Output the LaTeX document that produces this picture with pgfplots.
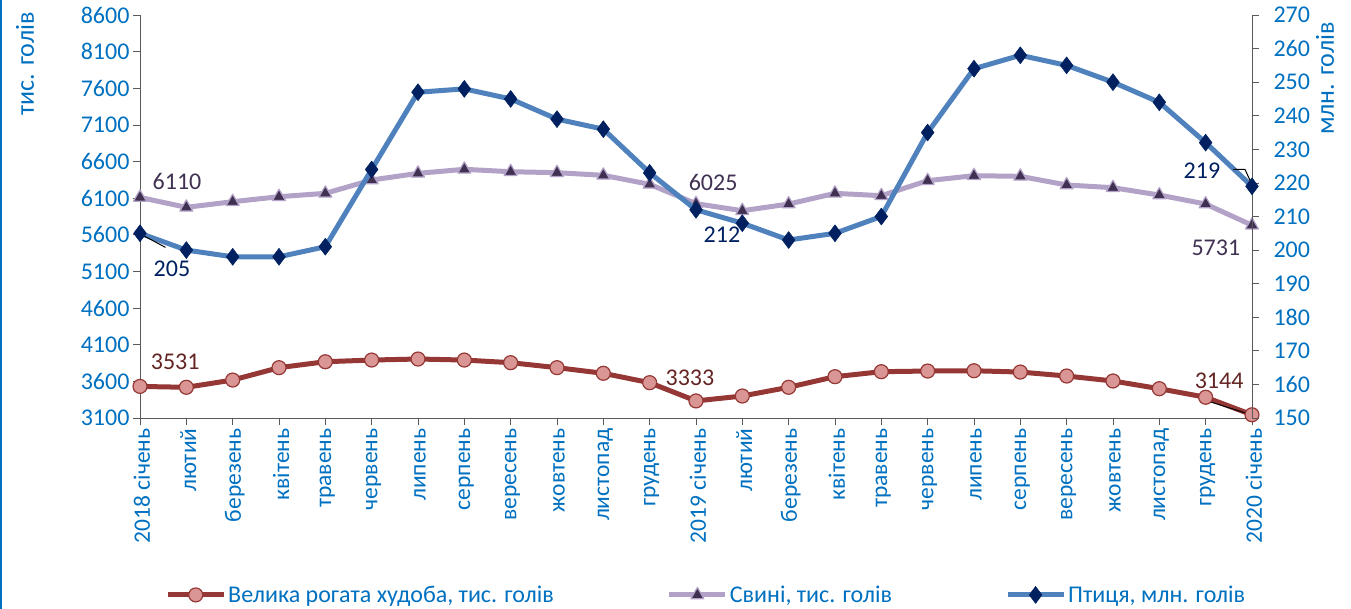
\documentclass[border=0pt]{standalone}
\usepackage{pgfplots}
\pgfplotsset{compat=1.18}
\usepackage{fontspec}
\setmainfont{Carlito}
\definecolor{tickblue}{HTML}{0070C0}
\definecolor{cattle}{HTML}{953735}
\definecolor{cattlefill}{HTML}{D99694}
\definecolor{cattlelab}{HTML}{632523}
\definecolor{pigs}{HTML}{B3A2C7}
\definecolor{pigmark}{HTML}{403152}
\definecolor{birds}{HTML}{4F81BD}
\definecolor{birdmark}{HTML}{002060}
\definecolor{axisgray}{HTML}{595959}
\pgfplotsset{
  common/.style={
    width=1112bp, height=403bp, scale only axis,
    at={(0,0)}, anchor=south west,
    xmin=0, xmax=24,
    tick align=outside, major tick length=7bp,
    tick style={axisgray, line width=0.8bp},
    axis line style={axisgray, line width=0.8bp},
    ticklabel style={font=\fontsize{24bp}{26bp}\selectfont, text=tickblue},
    /pgf/number format/assume math mode=true,
    /pgf/number format/set thousands separator={},
    every axis plot/.append style={line join=round},
  },
  cattlestyle/.style={cattle, line width=5bp, mark=*, mark size=7bp,
    mark options={fill=cattlefill, draw=cattle, line width=1.2bp}},
  pigstyle/.style={pigs, line width=5bp, mark=triangle*, mark size=7.5bp,
    mark options={fill=pigmark, draw=pigs, line width=1.2bp}},
  birdstyle/.style={birds, line width=5bp, mark=diamond*, mark size=8.5bp,
    mark options={fill=birdmark, draw=birdmark, line width=0.5bp}},
}
\begin{document}
\begin{tikzpicture}
\path[use as bounding box] (-140bp,-191bp) rectangle (1211bp,418bp);
\begin{axis}[common,
  axis x line*=bottom, axis y line*=left,
  ymin=3100, ymax=8600, ytick={3100,3600,...,8600},
  xtick={0,...,24},
  xticklabels={2018 січень,лютий,березень,квітень,травень,червень,липень,серпень,вересень,жовтень,листопад,грудень,2019 січень,лютий,березень,квітень,травень,червень,липень,серпень,вересень,жовтень,листопад,грудень,2020 січень},
  x tick label style={rotate=90, anchor=east, yshift=-2bp, font=\fontsize{23.5bp}{25bp}\selectfont},
]
\addplot[cattlestyle] coordinates {
(0,3531) (1,3519) (2,3618) (3,3787) (4,3868) (5,3891) (6,3905) (7,3891) (8,3855) (9,3787) (10,3710) (11,3582)
(12,3333) (13,3400) (14,3519) (15,3664) (16,3732) (17,3741) (18,3745) (19,3727) (20,3673) (21,3605) (22,3500) (23,3383) (24,3144)};
\addplot[pigstyle] coordinates {
(0,6110) (1,5975) (2,6052) (3,6120) (4,6166) (5,6348) (6,6439) (7,6494) (8,6461) (9,6448) (10,6412) (11,6289)
(12,6025) (13,5929) (14,6020) (15,6166) (16,6134) (17,6339) (18,6407) (19,6398) (20,6280) (21,6243) (22,6143) (23,6020) (24,5731)};
\node[text=pigmark, font=\fontsize{24bp}{26bp}\selectfont] at (axis cs:0.80,6334) {6110};
\node[text=cattlelab, font=\fontsize{24bp}{26bp}\selectfont] at (axis cs:0.76,3864) {3531};
\node[text=pigmark, font=\fontsize{24bp}{26bp}\selectfont] at (axis cs:12.37,6321) {6025};
\node[text=cattlelab, font=\fontsize{24bp}{26bp}\selectfont] at (axis cs:11.87,3646) {3333};
\node[text=pigmark, font=\fontsize{24bp}{26bp}\selectfont] at (axis cs:23.22,5420) {5731};
\node[text=cattlelab, font=\fontsize{24bp}{26bp}\selectfont] at (axis cs:23.29,3605) {3144};
\draw[black, line width=1bp] (axis cs:23.0,3341) -- (axis cs:23.9,3160);
\end{axis}
\begin{axis}[common,
  axis x line=none, axis y line*=right,
  ymin=150, ymax=270, ytick={150,160,...,270},
  yticklabel style={xshift=11bp},
  xtick=\empty,
  legend columns=3,
  legend style={at={(0.0225,-0.439)}, anchor=west, draw=none, fill=none,
    inner sep=0pt, font=\fontsize{24bp}{26bp}\selectfont, text=tickblue,
    nodes={inner sep=2bp},
    /tikz/every even column/.append style={column sep=111bp}},
  legend image code/.code={\draw[mark repeat=2, mark phase=2] plot coordinates {(0bp,0bp) (28bp,0bp) (56bp,0bp)};},
]
\addlegendimage{cattlestyle}
\addlegendentry{Велика рогата худоба, тис. голів}
\addlegendimage{pigstyle}
\addlegendentry{Свині, тис. голів}
\addplot[birdstyle] coordinates {
(0,205) (1,200) (2,198) (3,198) (4,201) (5,224) (6,247) (7,248) (8,245) (9,239) (10,236) (11,223)
(12,212) (13,208) (14,203) (15,205) (16,210) (17,235) (18,254) (19,258) (20,255) (21,250) (22,244) (23,232) (24,219)};
\addlegendentry{Птиця, млн. голів}
\node[text=birdmark, font=\fontsize{24bp}{26bp}\selectfont] at (axis cs:0.69,194.4) {205};
\node[text=birdmark, font=\fontsize{24bp}{26bp}\selectfont] at (axis cs:12.56,204.5) {212};
\node[text=birdmark, font=\fontsize{24bp}{26bp}\selectfont] at (axis cs:22.92,223.5) {219};
\draw[black, line width=1bp] (axis cs:0.05,204.5) -- (axis cs:0.55,200.8);
\draw[black, line width=1bp] (axis cs:23.6,224.0) -- (axis cs:23.85,224.0) -- (axis cs:24,219.5);
\end{axis}
\draw[tickblue, line width=2bp] (-139bp,-191bp) -- (-139bp,418bp);
\node[rotate=90, anchor=east, text=tickblue, font=\fontsize{26bp}{28bp}\selectfont, inner sep=0pt] at (-115bp,406bp) {тис. голів};
\node[rotate=90, anchor=east, text=tickblue, font=\fontsize{26bp}{28bp}\selectfont, inner sep=0pt] at (1185bp,396bp) {млн. голів};
\end{tikzpicture}
\end{document}
